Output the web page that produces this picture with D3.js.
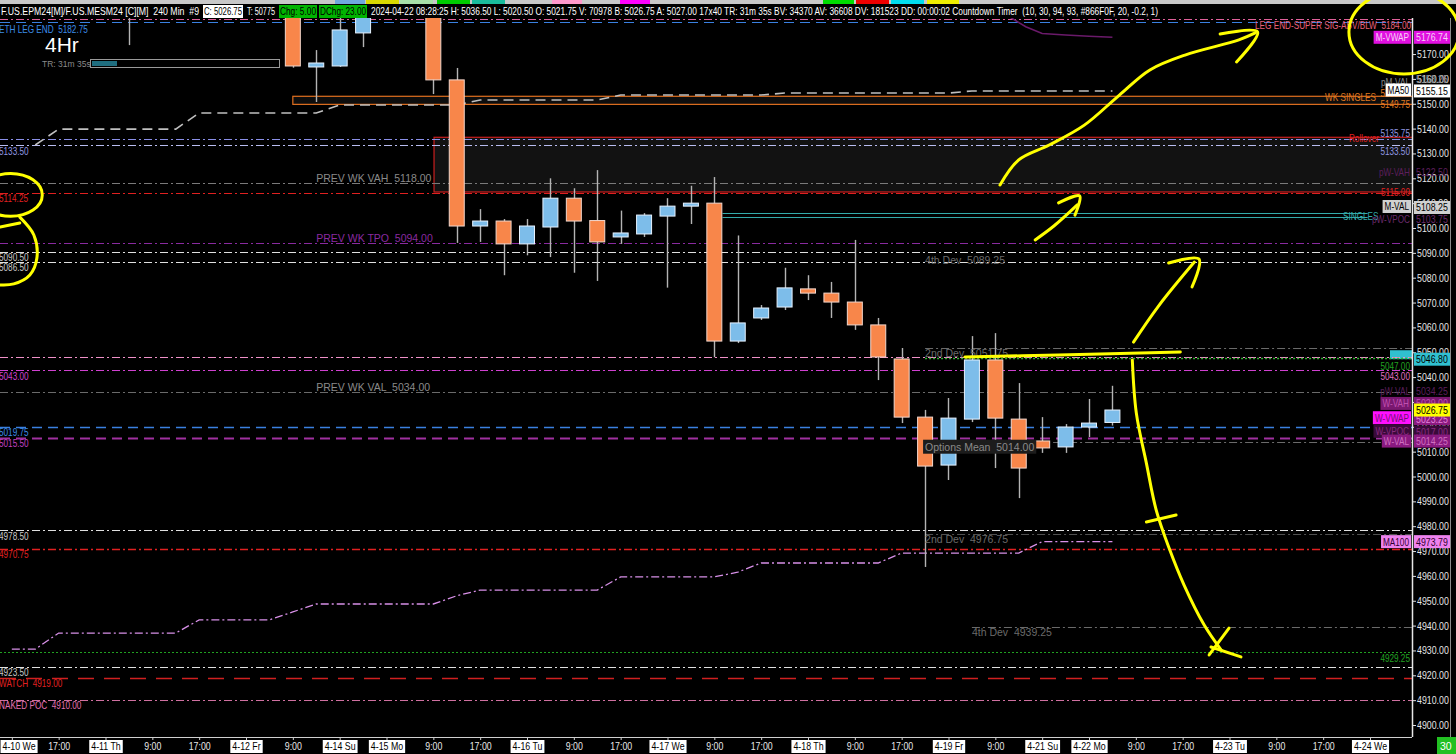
<!DOCTYPE html>
<html><head><meta charset="utf-8">
<script src="https://cdn.jsdelivr.net/npm/d3@7"></script>
<style>html,body{margin:0;padding:0;background:#000;overflow:hidden}svg{display:block}text{font-family:"Liberation Sans",Arial,sans-serif;white-space:pre}</style>
</head><body><svg id="c" width="1456" height="754"></svg>
<script>
// ---------------- DATA ----------------
// candles (bar index on a 4h grid, OHLC)
const barIndex = [5,12,13,14,15,18,19,20,21,22,23,24,25,26,27,28,29,30,31,32,33,34,35,36,37,38,39,40,41,42,43,44,45,46,47];
const opens  = [5190,5195,5164.8,5165.2,5178.5,5192,5159.6,5100.8,5102.8,5093.6,5100.4,5112,5103,5096.4,5097.6,5104.8,5108.8,5110,5054.5,5063.8,5068.2,5075.5,5073.8,5070.2,5061,5047.3,5023.9,5004.6,5023.1,5046.9,5023.1,5014.3,5011.9,5019.9,5021.75];
const highs  = [5200,5200,5171.6,5184.5,5195,5196,5164.4,5107.6,5103.6,5103.6,5120,5116,5123.3,5107,5106,5112,5117,5120.5,5097,5069,5084,5081,5078.3,5095.2,5063.8,5051.7,5026.8,5031.6,5056.5,5057.7,5037.6,5023.9,5021.1,5031.2,5036.5];
const lows   = [5173.6,5164.5,5150.7,5164.8,5172.8,5153.9,5094,5094.4,5081,5089,5088.3,5082,5078.7,5093.6,5096.4,5076,5101.6,5048,5053.7,5063,5067,5071,5063.8,5059,5038.8,5021.5,4963.6,4998.6,5021.9,5003.4,4991.3,5009.5,5009.5,5015.9,5020.5];
const closes = [5195,5165.2,5166.4,5179.7,5190,5159.6,5100.8,5102.8,5093.6,5100.8,5112,5102.8,5094.4,5098,5105.2,5108.8,5110,5054.5,5061.8,5067.8,5075.9,5073.8,5070.2,5061,5048.1,5023.9,5004.2,5023.5,5046.9,5023.5,5003.4,5011.5,5019.9,5021.5,5026.75];

// x-axis tick labels (every 2 bars)
const tickIndex = d3.range(0, 59, 2);
const tickLabels = ["4-10 We","17:00","4-11 Th","9:00","17:00","4-12 Fr","9:00","4-14 Su","4-15 Mo","9:00","17:00","4-16 Tu","9:00","17:00","4-17 We","9:00","17:00","4-18 Th","9:00","17:00","4-19 Fr","9:00","4-21 Su","4-22 Mo","9:00","17:00","4-23 Tu","9:00","17:00","4-24 We"];
const priceTicks = d3.range(4900, 5171, 10);

// moving averages (by bar index)
const ma50Index  = [1,2,3,4,5,6,7,8,9,10,11,12,13,14,15,16,17,18,19,20,21,22,23,24,25,26,27,28,29,30,31,32,33,34,35,36,37,38,39,40,41,42,43,44,45,46,47];
const ma50Values = [5133.4,5139.8,5139.8,5139.8,5139.8,5139.8,5139.8,5146.3,5146.3,5146.3,5146.3,5146.3,5146.3,5149.5,5149.5,5149.5,5149.5,5149.5,5149.5,5151.5,5151.5,5151.5,5151.5,5151.5,5151.5,5153.5,5153.5,5153.5,5153.5,5153.5,5153.5,5153.5,5154.3,5154.3,5154.3,5154.3,5154.3,5154.3,5154.3,5154.3,5155.15,5155.15,5155.15,5155.15,5155.15,5155.15,5155.15];
const ma100Index  = [0,1,2,3,4,5,6,7,8,9,10,11,12,13,14,15,16,17,18,19,20,21,22,23,24,25,26,27,28,29,30,31,32,33,34,35,36,37,38,39,40,41,42,43,44,45,46,47];
const ma100Values = [4930.5,4930.5,4937,4937,4937,4937,4937,4937,4942.3,4942.3,4942.3,4942.3,4945.5,4948.7,4948.7,4948.7,4948.7,4948.7,4948.7,4952,4954.3,4954.3,4954.3,4954.3,4954.3,4954.3,4959.6,4959.6,4959.6,4959.6,4959.6,4961.5,4965.2,4965.2,4965.2,4965.2,4965.2,4965.2,4969.2,4969.2,4969.2,4969.2,4969.2,4969.2,4973.79,4973.79,4973.79,4973.79];
const mvwapIndex  = [42.6,43.3,44,45,46,47];
const mvwapValues = [5185,5181,5178.3,5177.7,5177.2,5176.74];

// horizontal levels
const levelNames  = ["legEnd","ethLegEnd","lav1","lav2","prevWkVah","red5114","singlesA","singlesB","prevWkTpo","w5090","w5086","dev2u","pink5048","green5047","mag5043","prevWkVal","blue5019","mag5015","optMean","w4978","dev2d","red4970","dev4d","green4929","w4923","watch","nakedPoc"];
const levelValues = [5184,5182.75,5135.75,5133.5,5118,5114.25,5106,5104.5,5094,5090.5,5086.5,5051.75,5048,5047.5,5043,5034,5019.75,5015.5,5014,4978.5,4976.75,4970.75,4939.25,4929.25,4923.5,4919,4910];
const levelFrom   = [null,null,null,null,null,null,30.35,30.35,null,null,null,39,null,39,null,null,null,null,39,null,39,null,41,null,null,null,null];
const levelTo     = [null,null,null,null,null,null,57.9,57.9,null,null,null,null,null,null,null,null,null,null,null,null,null,null,null,null,null,null,null];

// zones
const zoneNames = ["wkSingles","rollover"];
const zoneFrom  = [12, 18.03];
const zoneHigh  = [5153, 5136.5];
const zoneLow   = [5149.75, 5114.5];

// left-edge labels
const leftTexts  = ["ETH LEG END  5182.75","5133.50","5114.25","5090.50","5086.50","5043.00","5019.75","5015.50","4978.50","4970.75","4923.50","WATCH  4919.00","NAKED POC  4910.00"];
const leftValues = [5182.75,5133.5,5114.25,5090.5,5086.5,5043,5019.75,5015.5,4978.5,4970.75,4923.5,4919,4910];

// in-chart labels
const inTexts  = ["PREV WK VAH  5118.00","PREV WK TPO  5094.00","4th Dev  5089.25","2nd Dev  5051.75","PREV WK VAL  5034.00","Options Mean  5014.00","2nd Dev  4976.75","4th Dev  4939.25"];
const inIndex  = [13,13,39,39,13,39,39,41];
const inValues = [5118,5094,5089.25,5051.75,5034,5014,4976.75,4939.25];

// right-edge tags
const tagTexts  = ["LEG END-SUPER SIG-ABV/BLW  5184.00","M-VWAP","pM-VAL","WK SINGLES","5153.00","MA50","5149.75","Rollover","5135.75","5133.50","pW-VAH","5115.00","SINGLES","M-VAL","pW-VPOC","5047.00","5043.00","pW-VAL","W-VAH","W-VWAP","W-VPOC","W-VAL","MA100","4929.25"];
const tagValues = [5184,5176.74,5158.25,5153,5153,5155.15,5149.75,5136.5,5135.75,5133.5,5122.5,5114.25,5105.25,5108.25,5103.75,5047,5043,5034.25,5029,5023.25,5017,5014.25,4973.79,4929.25];

// price-axis value boxes
const boxTexts  = ["5176.74","5158.25","5155.15","5122.50","5108.25","5103.75","5046.80","5034.25","5029.00","5023.25","5017.00","5014.25","5026.75","4973.79"];
const boxValues = [5176.74,5158.25,5155.15,5122.5,5108.25,5103.75,5046.8,5034.25,5029,5023.25,5017,5014.25,5026.75,4973.79];

// header read-out
const hdrTexts = ["F.US.EPM24[M]/F.US.MESM24 [C][M]  240 Min  #9","C: 5026.75","T: 50775","Chg: 5.00","DChg: 23.00","2024-04-22 08:28:25 H: 5036.50 L: 5020.50 O: 5021.75 V: 70978 B: 5026.75 A: 5027.00 17x40 TR: 31m 35s BV: 34370 AV: 36608 DV: 181523 DD: 00:00:02 Countdown Timer  (10, 30, 94, 93, #866F0F, 20, -0.2, 1)"];

// yellow hand-drawn annotations, in (bar index, price)
const annoPaths = [
  [[42.2,5117.3],[43.0,5127.4],[44.3,5133.4],[45.8,5141.4],[47.3,5153.5],[48.6,5163.6],[50.1,5169.6],[52.4,5175.7],[53.1,5178.5]],
  [[51.6,5178.1],[53.2,5178.9],[52.3,5166.8]],
  [[43.7,5095.2],[44.5,5100.8],[45.5,5109.3]],
  [[44.7,5110.1],[45.6,5112.9],[45.4,5105.2]],
  [[47.9,5054.1],[49.0,5069.0],[50.5,5086.3]],
  [[49.4,5085.9],[50.7,5087.5],[50.4,5076.3]],
  [[40.7,5048.1],[44.7,5048.9],[49.9,5050.1]],
  [[47.85,5046.9],[48.02,5025.6],[48.45,5005.4],[48.87,4986.5],[49.42,4971.2],[50.06,4956.3],[50.92,4940.2],[51.64,4930.2]],
  [[48.45,4981.7],[49.72,4984.5]],
  [[51.98,4939.0],[51.13,4928.2]],
  [[51.21,4931.4],[52.49,4927.4]],
  [[0.34,5102.0],[-0.5,5100.4]],
  [[0.34,5104.4],[0.94,5097.2],[1.07,5087.9],[0.77,5081.1],[0.085,5077.5],[-0.5,5077.1]]
];
const annoEllipses = [[59.45,5178.9,2.35,16.9],[-0.05,5113.3,1.35,8.6]];

// ---------------- LAYOUT / STYLE ----------------
const W = 1456, H = 754, plotR = 1412, plotT = 18, plotB = 737;
const x = d3.scaleLinear().domain([4, 58]).range([105.5, 1370]);
const y = d3.scaleLinear().domain([4900, 5100]).range([725, 228]);
const DD = "8,3,2,3", DASH = "10,6", DOT = "2,2", LONG = "16,10";
const NARROW = 0.78;
const lvlStyle = {
  legEnd:["#E0609A",DD,1.2], ethLegEnd:["#3A80E0",DASH,1.2], lav1:["#8A8FE8",DD,1], lav2:["#B8BCF0",DD,1],
  prevWkVah:["#7a7a7a",DD,1], red5114:["#E02020",DD,1.2], singlesA:["#34AAAA",null,1.2], singlesB:["#34AAAA",null,1.2],
  prevWkTpo:["#8A2AA0",DD,1.2], w5090:["#E0E0E0",DD,1.2], w5086:["#E0E0E0",DD,1.2], dev2u:["#6a6a6a",DD,1],
  pink5048:["#F090C8",DD,1.2], green5047:["#30B030",DOT,1.5], mag5043:["#D040D0",DD,1.2], prevWkVal:["#6a6a6a",DD,1],
  blue5019:["#3A80E0",DASH,1.4], mag5015:["#A030A0",DASH,2.2], optMean:["#6a6a6a",DD,1], w4978:["#E0E0E0",DD,1.2],
  dev2d:["#505050",DD,1], red4970:["#E02020",DD,1.4], dev4d:["#6a6a6a",DD,1], green4929:["#20A020",DOT,1.2],
  w4923:["#E0E0E0",DD,1.2], watch:["#D02020",LONG,1.4], nakedPoc:["#D070A0",DD,1.2]
};
const zoneStyle = {wkSingles:["#E07020","#0d0d0d"], rollover:["#C81E1E","#121212"]};
const leftColors = ["#3C8CE8","#9096E0","#E02020","#C8C8C8","#C8C8C8","#D040D0","#3C8CE8","#C040C0","#C8C8C8","#E02020","#C8C8C8","#E02020","#E070B0"];
const leftDy = [7,6,5,5,5,6,5,5,6,5,5,5,5];
const inColors = ["#8a8a8a","#8A2AA0","#6a6a6a","#6a6a6a","#8a8a8a","#8a8a8a","#6a6a6a","#6a6a6a"];
const inDy = [-5,-5,5,5,-5,5,5,5];
// tag style: [textColor, bg or null, x, anchor, dy]
const tagStyle = [
  ["#E8607A",null,1411,"end",6],["#F6D0F6","#E010E0",1409,"end",0],["#8c8c8c",null,1410,"end",-1],
  ["#E07A20",null,1376,"end",1],["#E07A20",null,1410,"end",-3],["#000","#FFFFFF",1409,"end",-1],
  ["#E07A20",null,1410,"end",0],["#E02020",null,1379,"end",1],["#9096E0",null,1410,"end",-6],
  ["#9096E0",null,1410,"end",6],["#5C1F5C",null,1410,"end",0],["#E02020",null,1410,"end",-1],
  ["#34AAAA",null,1343,"start",1],["#000","#D0D0D0",1409,"end",-1],["#6A2A6A",null,1410,"end",0],
  ["#20A020",null,1410,"end",6],["#E070C0",null,1410,"end",6],["#5C1F5C",null,1410,"end",0],
  ["#C050B0","#7A1870",1409,"end",-1],["#701070","#FF10FF",1409,"end",-1],["#8A2A80","#3A0A3A",1409,"end",-3],
  ["#D070C0","#8A1A80",1409,"end",0],["#300030","#EE82EE",1409,"end",0],["#20A020",null,1410,"end",6]
];
const boxStyle = [
  ["#F6D0F6","#E010E0",0],["#8c8c8c",null,-4],["#000","#FFFFFF",0],["#5C1F5C",null,0],["#000","#D0D0D0",0],
  ["#6A2A6A",null,0],["#000","#30C0D0",-1],["#5C1F5C",null,0],["#C050B0","#7A1870",-1],["#E080D8","#8A1A80",0],
  ["#8A2A80","#3A0A3A",-2],["#D070C0","#8A1A80",0],["#000","#FFFF00",0],["#300030","#EE82EE",0]
];
// header segment placement: [x, width, bg, fg]
const hdrLayout = [[0,200,null,"#fff"],[203,40,"#fff","#000"],[246,30,null,"#fff"],[279,38,"#00B400","#000"],[319,48,"#00B400","#000"],[370,789,null,"#fff"]];

// squeeze a text horizontally (condensed look); returns new width
function squeeze(sel, f) {
  const w = sel.node().getComputedTextLength() * f;
  sel.attr("textLength", w).attr("lengthAdjust", "spacingAndGlyphs");
  return w;
}

// ---------------- DRAW ----------------
const svg = d3.select("#c");
svg.append("rect").attr("width", W).attr("height", H).attr("fill", "#000");

// top toolbar strip
const strip = [[0,1456,"#C8C8C8"],[335,365,"#6FA8DC"],[366,399,"#D8D800"],[400,433,"#A8E0A8"],[437,470,"#00CC00"],[472,505,"#1ABC9C"],[552,582,"#FF99CC"],[620,650,"#FF00FF"],[823,854,"#00DD00"],[856,889,"#EE0000"],[891,924,"#00DDEE"],[927,959,"#EEEE00"]];
svg.append("g").selectAll("rect").data(strip).join("rect")
  .attr("x", d => d[0]).attr("y", 0).attr("width", d => d[1] - d[0]).attr("height", 4).attr("fill", d => d[2]);

// plot area
svg.append("defs").append("clipPath").attr("id", "pc").append("rect")
  .attr("x", 0).attr("y", plotT).attr("width", plotR).attr("height", plotB - plotT);
const plot = svg.append("g").attr("clip-path", "url(#pc)");

// zones
zoneNames.forEach((n, k) => {
  plot.append("rect").attr("x", x(zoneFrom[k])).attr("y", y(zoneHigh[k]))
    .attr("width", plotR - x(zoneFrom[k]) + 2).attr("height", y(zoneLow[k]) - y(zoneHigh[k]))
    .attr("fill", zoneStyle[n][1]).attr("stroke", zoneStyle[n][0]).attr("stroke-width", 1.2);
});

// cyan tag behind lines
plot.append("rect").attr("x", 1390).attr("y", y(5048.8) - 5).attr("width", 24).attr("height", 9).attr("fill", "#30C0D0");

// levels
levelNames.forEach((n, k) => {
  const s = lvlStyle[n];
  const x1 = levelFrom[k] == null ? 0 : x(levelFrom[k]);
  const x2 = levelTo[k] == null ? plotR : x(levelTo[k]);
  plot.append("line").attr("x1", x1).attr("x2", x2)
    .attr("y1", Math.round(y(levelValues[k])) + 0.5).attr("y2", Math.round(y(levelValues[k])) + 0.5)
    .attr("stroke", s[0]).attr("stroke-width", s[2]).attr("stroke-dasharray", s[1]);
});

// moving averages
const lineGen = d3.line().x(d => x(d[0])).y(d => y(d[1]));
plot.append("path").attr("d", lineGen(ma50Index.map((b, k) => [b, ma50Values[k]])))
  .attr("fill", "none").attr("stroke", "#C0C0C0").attr("stroke-width", 1.6).attr("stroke-dasharray", "10,6");
plot.append("path").attr("d", lineGen(ma100Index.map((b, k) => [b, ma100Values[k]])))
  .attr("fill", "none").attr("stroke", "#D890E8").attr("stroke-width", 1.3).attr("stroke-dasharray", DD);
plot.append("path").attr("d", lineGen(mvwapIndex.map((b, k) => [b, mvwapValues[k]])))
  .attr("fill", "none").attr("stroke", "#6A1A6A").attr("stroke-width", 1.5);

// candles
const candles = barIndex.map((b, k) => ({b, o: opens[k], h: highs[k], l: lows[k], c: closes[k]}));
const bw = (x(1) - x(0)) * 0.64;
plot.append("g").selectAll("line").data(candles).join("line")
  .attr("x1", d => Math.round(x(d.b)) + 0.5).attr("x2", d => Math.round(x(d.b)) + 0.5)
  .attr("y1", d => y(d.h)).attr("y2", d => y(d.l)).attr("stroke", "#B4B4B4").attr("stroke-width", 1.4);
plot.append("g").selectAll("rect").data(candles).join("rect")
  .attr("x", d => x(d.b) - bw / 2).attr("width", bw)
  .attr("y", d => y(Math.max(d.o, d.c))).attr("height", d => Math.max(2, Math.abs(y(d.o) - y(d.c))))
  .attr("fill", d => d.c >= d.o ? "#7DBDEA" : "#F8864A")
  .attr("stroke", d => d.c >= d.o ? "#E6F2FF" : "#F2D6CC").attr("stroke-width", 1);

// left labels
const leftG = svg.append("g");
leftTexts.forEach((t, k) => {
  const tn = leftG.append("text").attr("x", -1).attr("y", y(leftValues[k]) + leftDy[k] + 4)
    .attr("fill", leftColors[k]).attr("font-size", 10.5).text(t);
  squeeze(tn, NARROW);
});

// in-chart labels
const inG = svg.append("g");
inTexts.forEach((t, k) => {
  const tx = x(inIndex[k]), ty = y(inValues[k]) + inDy[k];
  const tn = inG.append("text").attr("x", tx).attr("y", ty + 4).attr("fill", inColors[k]).attr("font-size", 10.5).text(t);
  if (t.startsWith("Options")) {
    const w = tn.node().getComputedTextLength();
    inG.insert("rect", () => tn.node()).attr("x", tx - 2).attr("y", ty - 7).attr("width", w + 4).attr("height", 14).attr("fill", "#1c1c1c");
  }
});

// right tags
const tagG = svg.append("g");
tagTexts.forEach((t, k) => {
  const s = tagStyle[k];
  const ty = y(tagValues[k]) + s[4];
  const tn = tagG.append("text").attr("x", s[2]).attr("y", ty + 4).attr("text-anchor", s[3])
    .attr("fill", s[0]).attr("font-size", 10.5).text(t);
  const w = squeeze(tn, NARROW);
  if (s[1]) {
    tagG.insert("rect", () => tn.node()).attr("x", s[2] - w - 2).attr("y", ty - 6.5).attr("width", w + 4).attr("height", 13).attr("fill", s[1]);
  }
});

// right axis
svg.append("rect").attr("x", plotR + 1).attr("y", plotT).attr("width", W - plotR).attr("height", plotB - plotT).attr("fill", "#000");
const yAxis = svg.append("g").attr("transform", `translate(${plotR},0)`)
  .call(d3.axisRight(y).tickValues(priceTicks).tickSize(4).tickPadding(1).tickFormat(d => d.toFixed(2)));
yAxis.select(".domain").remove();
yAxis.selectAll(".tick line").attr("stroke", "#e0e0e0");
yAxis.selectAll(".tick text").attr("fill", "#e6e6e6").attr("font-size", 11).attr("font-family", "Liberation Sans, Arial")
  .each(function() { squeeze(d3.select(this), 0.8); });
svg.append("line").attr("x1", plotR + 0.5).attr("x2", plotR + 0.5).attr("y1", plotT).attr("y2", plotB).attr("stroke", "#e8e8e8").attr("stroke-width", 1.5);
svg.append("line").attr("x1", 1450.5).attr("x2", 1450.5).attr("y1", plotT).attr("y2", plotB).attr("stroke", "#8a8a8a");

// axis value boxes
const boxG = svg.append("g");
boxTexts.forEach((t, k) => {
  const s = boxStyle[k];
  const ty = y(boxValues[k]) + s[2];
  if (s[1]) boxG.append("rect").attr("x", plotR + 2).attr("y", ty - 6.5).attr("width", 36).attr("height", 13).attr("fill", s[1]);
  const tn = boxG.append("text").attr("x", plotR + 4).attr("y", ty + 4).attr("fill", s[0]).attr("font-size", 11).text(t);
  squeeze(tn, 0.8);
});

// bottom axis
svg.append("rect").attr("x", 0).attr("y", plotB).attr("width", W).attr("height", H - plotB).attr("fill", "#000");
svg.append("line").attr("x1", 0).attr("x2", plotR).attr("y1", plotB + 0.5).attr("y2", plotB + 0.5).attr("stroke", "#d0d0d0");
const xAxis = svg.append("g").attr("transform", `translate(0,${plotB})`)
  .call(d3.axisBottom(x).tickValues(tickIndex).tickSize(3).tickPadding(2).tickFormat((d, k) => tickLabels[k]));
xAxis.select(".domain").remove();
xAxis.selectAll(".tick line").attr("stroke", "#d0d0d0");
xAxis.selectAll(".tick text").attr("fill", "#e8e8e8").attr("font-size", 11).attr("font-family", "Liberation Sans, Arial");
xAxis.selectAll(".tick").each(function(d, k) {
  const g = d3.select(this), txt = g.select("text");
  const lbl = tickLabels[k];
  const w = squeeze(txt, 0.8);
  const dx = x(d) - w / 2 < 2 ? (w / 2 - x(d) + 2) : 0;
  if (dx) txt.attr("transform", `translate(${dx},0)`);
  if (lbl.includes("-")) {
    g.insert("rect", "text").attr("x", -w / 2 - 2 + dx).attr("y", 3).attr("width", w + 4).attr("height", 13).attr("fill", "#fff");
    txt.attr("fill", "#000");
  }
});
svg.append("rect").attr("x", 1437).attr("y", 737).attr("width", 19).attr("height", 17).attr("fill", "#22C022");
svg.append("text").attr("x", 1440).attr("y", 750).attr("fill", "#fff").attr("font-size", 10.5).text("30");

// header
const hdr = svg.append("g");
hdrTexts.forEach((t, k) => {
  const s = hdrLayout[k];
  if (s[2]) hdr.append("rect").attr("x", s[0]).attr("y", 5).attr("width", s[1]).attr("height", 13).attr("fill", s[2]);
  hdr.append("text").attr("x", s[0] + 1).attr("y", 15).attr("fill", s[3]).attr("font-size", 11.5)
    .attr("textLength", s[1] - 2).attr("lengthAdjust", "spacingAndGlyphs").text(t);
});

// 4Hr + timer bar
svg.append("text").attr("x", 45).attr("y", 52).attr("fill", "#fff").attr("font-size", 21).text("4Hr");
svg.append("text").attr("x", 42).attr("y", 67).attr("fill", "#8a8a8a").attr("font-size", 8.5).text("TR: 31m 35s");
svg.append("rect").attr("x", 90.5).attr("y", 59.5).attr("width", 189).attr("height", 8).attr("fill", "none").attr("stroke", "#9a9a9a");
svg.append("rect").attr("x", 92).attr("y", 61).attr("width", 25).attr("height", 5).attr("fill", "#1F6E80");

// yellow annotations
const ann = svg.append("g").attr("fill", "none").attr("stroke", "#FFFF00").attr("stroke-width", 3)
  .attr("stroke-linecap", "round").attr("stroke-linejoin", "round");
const curve = d3.line().x(d => x(d[0])).y(d => y(d[1])).curve(d3.curveCatmullRom);
annoPaths.forEach(p => ann.append("path").attr("d", curve(p)));
annoEllipses.forEach(e => ann.append("ellipse").attr("cx", x(e[0])).attr("cy", y(e[1]))
  .attr("rx", x(e[0] + e[2]) - x(e[0])).attr("ry", y(e[1] - e[3]) - y(e[1])));
</script></body></html>
